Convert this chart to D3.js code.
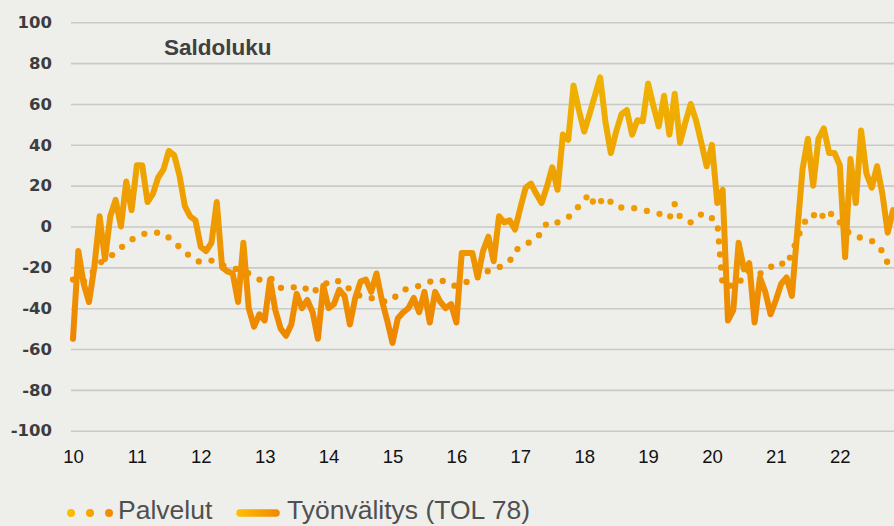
<!DOCTYPE html>
<html>
<head>
<meta charset="utf-8">
<script src="https://cdn.jsdelivr.net/npm/d3@7"></script>
<style>
  html, body { margin: 0; padding: 0; background: #eeeeea; }
  svg { display: block; }
</style>
</head>
<body>
<svg id="chart"></svg>
<script>
const width = 894;
const height = 526;

// x labels (years 2010-2022), monthly data starting Jan 2010
const yearLabels = ["10", "11", "12", "13", "14", "15", "16", "17", "18", "19", "20", "21", "22"];
const yTicks = [-100, -80, -60, -40, -20, 0, 20, 40, 60, 80, 100];

// Palvelut (saldoluku), one value per month
const palvelut = [
  -26, -28, -27, -25, -21, -18, -16, -14.5, -13, -10.5, -8, -6.5,
  -5, -4, -3, -3, -3, -3.3, -5.5, -8, -10, -12, -15, -16.5,
  -17.5, -17, -16.7, -17.5, -19, -19.5, -20.5, -21, -22, -23, -24.5, -26,
  -26, -25, -27.5, -30, -30.5, -30, -29.5, -29, -31, -32.8, -30, -29,
  -27, -26, -27, -28, -31, -33, -34, -35, -35, -36, -36.5, -37,
  -36, -33, -31, -30.5, -30, -29, -28, -27, -26.5, -26, -27.5, -29,
  -29, -28.6, -27, -25.5, -24, -21, -22, -21, -20, -18.5, -17, -12,
  -10, -8.5, -7.5, -5, -3.5, 2, 2.2, 2, 3.5, 4.5, 7, 10,
  13, 16, 10, 12, 14.5, 12, 9.5, 9.3, 9.3, 9.3, 8.5, 8,
  7.5, 7, 6.4, 5, 4, 11, 4.7, 3, 2, 4, 6, 6.4,
  4, 2, -29, -29, -29, -28.5, -23, -21.6, -23, -23, -22.5, -20,
  -17.5, -18, -19, -13, -6, 0, 5, 6, 3, 6, 8, 3,
  2, -1, -4, -5, -5.5, -6, -7, -10, -12, -18, -20
];

// Työnvälitys (TOL 78), one value per month
const tyonvalitys = [
  -55, -12, -28, -37, -20, 5, -16, 5, 13, 0, 22, 8,
  30, 30, 12, 16, 24, 28, 37, 35, 25, 10, 5, 3,
  -10, -12, -8, 12, -20, -22, -23, -37, -8, -40, -49, -43,
  -46, -26, -41, -50, -53.5, -48, -33, -40, -36, -42, -55, -29,
  -40, -38, -31, -34, -48, -35, -27, -26, -32, -23, -36, -46,
  -57, -45, -42, -40, -35, -42, -32, -47, -32, -37, -40, -38,
  -47, -13, -13, -13, -25, -12, -5, -17, 5, 2, 3, -1.5,
  9, 19, 21, 16, 11.5, 19.5, 29, 18, 45, 42.5, 69, 57,
  46.5, 55, 64, 73, 51, 36, 46.5, 55, 57, 45, 52, 51.5,
  70, 59, 49, 64, 45, 65, 41, 51, 60, 52, 41, 29.5,
  40, 11.5, 18, -46, -41, -8, -21, -18, -47, -25, -32, -43,
  -36, -28, -25, -34, -3, 28, 43, 20, 43, 48, 36, 36,
  30, -15, 33, 11.5, 47, 26, 19, 29.5, 16, -3, 8
];

const seriesNames = ["Palvelut", "Työnvälitys (TOL 78)"];

const svg = d3.select("#chart")
  .attr("width", width)
  .attr("height", height);

svg.append("rect")
  .attr("width", width)
  .attr("height", height)
  .attr("fill", "#eeeeea");

const x = d3.scaleLinear().domain([0, 144]).range([73, 839.8]);
const y = d3.scaleLinear().domain([-100, 100]).range([430.7, 22.3]);

// gradients: the lines go from yellow at the top to orange at the bottom
const defs = svg.append("defs");
const grad = defs.append("linearGradient")
  .attr("id", "lineGrad")
  .attr("gradientUnits", "userSpaceOnUse")
  .attr("x1", 0).attr("x2", 0)
  .attr("y1", y(75)).attr("y2", y(-55));
grad.append("stop").attr("offset", 0).attr("stop-color", "#efb400");
grad.append("stop").attr("offset", 1).attr("stop-color", "#ee8600");

function legendGrad(id, x1, x2) {
  const g = defs.append("linearGradient")
    .attr("id", id)
    .attr("gradientUnits", "userSpaceOnUse")
    .attr("x1", x1).attr("x2", x2)
    .attr("y1", 0).attr("y2", 0);
  g.append("stop").attr("offset", 0).attr("stop-color", "#ffc000");
  g.append("stop").attr("offset", 1).attr("stop-color", "#f08800");
}
legendGrad("legDots", 66, 114);
legendGrad("legLine", 236, 280);

// y axis with gridlines
const yAxis = svg.append("g")
  .attr("transform", "translate(71,0)")
  .call(d3.axisLeft(y)
    .tickValues(yTicks)
    .tickFormat(d => String(d))
    .tickSize(-(width - 71))
    .tickPadding(19));
yAxis.select(".domain").remove();
yAxis.selectAll(".tick line")
  .attr("stroke", "#c9c9c5")
  .attr("stroke-width", 1.6);
yAxis.selectAll(".tick text")
  .attr("fill", "#3d3d3d")
  .style("font-family", "'DejaVu Sans', sans-serif")
  .style("font-weight", "bold")
  .style("font-size", "16.5px");

// x axis
const xAxis = svg.append("g")
  .attr("transform", `translate(0,${y(-100)})`)
  .call(d3.axisBottom(x)
    .tickValues(d3.range(0, 145, 12))
    .tickFormat((d, i) => yearLabels[i])
    .tickSize(0)
    .tickPadding(19));
xAxis.select(".domain").remove();
xAxis.selectAll(".tick text")
  .attr("fill", "#111")
  .style("font-family", "'Liberation Sans', Arial, sans-serif")
  .style("font-size", "18.5px");

const line = d3.line()
  .x((d, i) => x(i))
  .y(d => y(d));

// Työnvälitys
svg.append("path")
  .datum(tyonvalitys)
  .attr("d", line)
  .attr("fill", "none")
  .attr("stroke", "url(#lineGrad)")
  .attr("stroke-width", 6)
  .attr("stroke-linejoin", "round")
  .attr("stroke-linecap", "round");

// Palvelut (round dots)
svg.append("path")
  .datum(palvelut)
  .attr("d", line)
  .attr("fill", "none")
  .attr("stroke", "url(#lineGrad)")
  .attr("stroke-width", 6.3)
  .attr("stroke-dasharray", "0 13")
  .attr("stroke-linecap", "round");

// title
svg.append("text")
  .attr("x", 164)
  .attr("y", 55)
  .attr("fill", "#404040")
  .style("font-family", "'Liberation Sans', Arial, sans-serif")
  .style("font-weight", "bold")
  .style("font-size", "22.5px")
  .text("Saldoluku");

// legend
const legend = svg.append("g");
legend.append("line")
  .attr("x1", 71).attr("x2", 110)
  .attr("y1", 513).attr("y2", 513)
  .attr("stroke", "url(#legDots)")
  .attr("stroke-width", 8)
  .attr("stroke-dasharray", "0 19")
  .attr("stroke-linecap", "round");
legend.append("line")
  .attr("x1", 240).attr("x2", 276)
  .attr("y1", 513).attr("y2", 513)
  .attr("stroke", "url(#legLine)")
  .attr("stroke-width", 7.5)
  .attr("stroke-linecap", "round");
legend.selectAll("text")
  .data(seriesNames)
  .enter().append("text")
  .attr("x", (d, i) => i === 0 ? 118 : 287)
  .attr("y", 519)
  .attr("fill", "#505050")
  .style("font-family", "'Liberation Sans', Arial, sans-serif")
  .style("font-size", "26.5px")
  .text(d => d);
</script>
</body>
</html>
